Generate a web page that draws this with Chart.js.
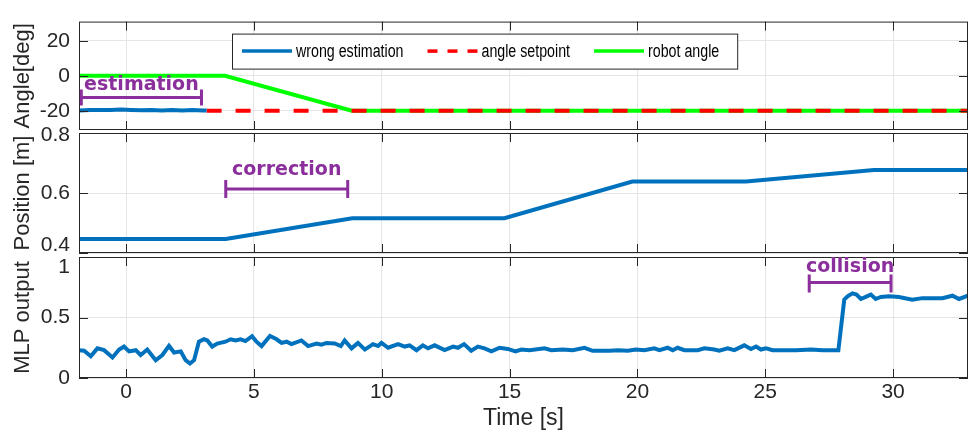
<!DOCTYPE html>
<html>
<head>
<meta charset="utf-8">
<script src="https://cdn.jsdelivr.net/npm/chart.js@4.4.0/dist/chart.umd.min.js"></script>
<style>
  html, body { margin: 0; padding: 0; background: #fff; }
  #wrap { position: relative; width: 969px; height: 439px; }
  #wrap canvas { position: absolute; left: 0; top: 0; }
</style>
</head>
<body>
<div id="wrap">
  <canvas id="angle" width="969" height="439"></canvas>
  <canvas id="position" width="969" height="439"></canvas>
  <canvas id="mlp" width="969" height="439"></canvas>
</div>
<script>
// Shared time axis
const timeRange = [-1.84, 32.93];
const xTicks = [0, 5, 10, 15, 20, 25, 30];

// Angle panel
const estimationTime = [-1.84, -1.4, -1.0, -0.6, -0.2, 0.2, 0.6, 1.0, 1.4, 1.8, 2.2, 2.6, 3.0, 3.15];
const estimationAngle = [-19.8, -19.6, -19.5, -19.6, -19.3, -19.5, -19.7, -19.5, -19.8, -19.6, -19.9, -19.6, -19.8, -19.9];
const setpointTime = [3.15, 32.93];
const setpointAngle = [-20, -20];
const robotTime = [-1.84, 3.87, 8.83, 32.93];
const robotAngle = [0, 0, -20, -20];
const angleTicks = [-20, 0, 20];

// Position panel
const positionTime = [-1.84, 3.9, 8.85, 14.8, 19.8, 24.25, 29.25, 32.93];
const positionValue = [0.447, 0.447, 0.516, 0.516, 0.638, 0.638, 0.677, 0.677];
const positionTicks = [0.4, 0.6, 0.8];

// MLP output panel
const mlpTime = [
  -1.84, -1.64, -1.38, -1.12, -0.86, -0.53, -0.27, -0.08, 0.12, 0.38, 0.57, 0.83,
  1.16, 1.42, 1.68, 1.88, 2.14, 2.33, 2.5, 2.66, 2.85, 3.05, 3.18, 3.37, 3.57, 3.89,
  4.09, 4.28, 4.48, 4.67, 4.93, 5.1, 5.3, 5.63, 5.89, 6.08, 6.28, 6.47, 6.86, 7.12,
  7.45, 7.64, 7.84, 8.16, 8.4, 8.55, 8.82, 9.07, 9.34, 9.66, 9.86, 9.99, 10.25, 10.64,
  10.9, 11.09, 11.36, 11.61, 11.81, 12.07, 12.46, 12.79, 12.98, 13.22, 13.5, 13.76,
  14.02, 14.29, 14.61, 14.93, 15.23, 15.46, 15.78, 16.37, 16.63, 17.08, 17.47, 17.93,
  18.25, 18.91, 19.23, 19.62, 19.95, 20.27, 20.66, 20.86, 21.18, 21.38, 21.57, 21.84,
  22.36, 22.62, 23.01, 23.2, 23.53, 23.79, 24.18, 24.44, 24.64, 24.83, 25.03, 25.29,
  25.74, 26.2, 26.79, 27.24, 27.86, 28.09, 28.22, 28.41, 28.57, 28.74, 28.93, 29.13,
  29.32, 29.52, 29.84, 30.23, 30.75, 31.14, 31.54, 31.93, 32.32, 32.58, 32.93
];
const mlpValue = [
  0.23, 0.225, 0.18, 0.245, 0.23, 0.17, 0.235, 0.26, 0.22, 0.23, 0.19, 0.235,
  0.147, 0.19, 0.265, 0.21, 0.22, 0.147, 0.12, 0.147, 0.30, 0.32, 0.31, 0.26, 0.285, 0.30,
  0.32, 0.31, 0.32, 0.305, 0.345, 0.30, 0.264, 0.348, 0.32, 0.29, 0.30, 0.28, 0.31, 0.264,
  0.285, 0.275, 0.29, 0.285, 0.264, 0.31, 0.245, 0.29, 0.235, 0.28, 0.264, 0.29, 0.25, 0.28,
  0.26, 0.27, 0.23, 0.27, 0.245, 0.27, 0.23, 0.26, 0.25, 0.28, 0.225, 0.26,
  0.245, 0.22, 0.25, 0.24, 0.22, 0.235, 0.23, 0.245, 0.23, 0.235, 0.23, 0.25,
  0.225, 0.225, 0.23, 0.225, 0.235, 0.23, 0.245, 0.23, 0.25, 0.23, 0.25, 0.23,
  0.23, 0.245, 0.235, 0.225, 0.245, 0.23, 0.27, 0.24, 0.26, 0.235, 0.245, 0.23,
  0.23, 0.23, 0.235, 0.23, 0.23, 0.647, 0.675, 0.70, 0.69, 0.653, 0.67, 0.69,
  0.653, 0.67, 0.675, 0.67, 0.647, 0.66, 0.66, 0.66, 0.68, 0.653, 0.68
];
const mlpTicks = [0, 0.5, 1];

// Purple brackets (data coordinates of each panel)
const estimationBracket = { label: 'estimation', from: -1.75, to: 2.95, level: -12.4, tickTop: -7.8, tickBottom: -17, labelAt: -5.2 };
const correctionBracket = { label: 'correction', from: 3.9, to: 8.67, level: 0.613, tickTop: 0.643, tickBottom: 0.583, labelAt: 0.677 };
const collisionBracket = { label: 'collision', from: 26.72, to: 29.92, level: 0.79, tickTop: 0.855, tickBottom: 0.706, labelAt: 0.915 };

const axisColor = '#262626';
const gridColor = '#e5e5e5';
const purple = '#8b2f9c';
const blue = '#0072bd';
const sansFont = '"Liberation Sans", Arial, Helvetica, sans-serif';

function toPoints(xs, ys) {
  return xs.map((x, i) => ({ x, y: ys[i] }));
}

// MATLAB-like box with ticks pointing inward
const boxPlugin = {
  id: 'matlabBox',
  afterDatasetsDraw(chart) {
    const { ctx, chartArea: a, scales: { x, y } } = chart;
    ctx.save();
    ctx.strokeStyle = axisColor;
    ctx.lineWidth = 1;
    ctx.beginPath();
    for (const t of x.ticks) {
      const px = Math.round(x.getPixelForValue(t.value)) + 0.5;
      ctx.moveTo(px, a.top); ctx.lineTo(px, a.top + 9);
      ctx.moveTo(px, a.bottom); ctx.lineTo(px, a.bottom - 9);
    }
    for (const t of y.ticks) {
      const py = Math.round(y.getPixelForValue(t.value)) + 0.5;
      ctx.moveTo(a.left, py); ctx.lineTo(a.left + 9, py);
      ctx.moveTo(a.right, py); ctx.lineTo(a.right - 9, py);
    }
    ctx.stroke();
    ctx.strokeRect(a.left + 0.5, a.top + 0.5, a.right - a.left - 1, a.bottom - a.top - 1);
    ctx.restore();
  }
};

function bracketPlugin(b) {
  return {
    id: 'bracket',
    afterDatasetsDraw(chart) {
      const { ctx, scales: { x, y } } = chart;
      const x0 = x.getPixelForValue(b.from), x1 = x.getPixelForValue(b.to);
      const yl = y.getPixelForValue(b.level);
      const yt = y.getPixelForValue(b.tickTop), yb = y.getPixelForValue(b.tickBottom);
      ctx.save();
      ctx.strokeStyle = purple;
      ctx.fillStyle = purple;
      ctx.lineWidth = 3;
      ctx.beginPath();
      ctx.moveTo(x0, yl); ctx.lineTo(x1, yl);
      ctx.moveTo(x0, yt); ctx.lineTo(x0, yb);
      ctx.moveTo(x1, yt); ctx.lineTo(x1, yb);
      ctx.stroke();
      ctx.font = 'bold 19px "DejaVu Sans", Verdana, sans-serif';
      ctx.textAlign = 'center';
      ctx.textBaseline = 'middle';
      ctx.fillText(b.label, (x0 + x1) / 2, y.getPixelForValue(b.labelAt));
      ctx.restore();
    }
  };
}

// Legend box drawn inside the top panel, text squeezed like a narrow font
const narrow = 0.79;
const legendPlugin = {
  id: 'insideLegend',
  afterDraw(chart) {
    const { ctx, chartArea: a } = chart;
    const boxLeft = a.left + 153, boxTop = a.top + 12, boxH = 35;
    const midY = boxTop + boxH / 2;
    ctx.save();
    ctx.font = '18px ' + sansFont;
    const items = chart.data.datasets.map(ds => ({
      label: ds.label, color: ds.borderColor, dash: ds.borderDash ? [10, 10] : [],
      width: ctx.measureText(ds.label).width * narrow
    }));
    let total = 10;
    items.forEach((it, i) => { total += 54 + it.width + (i < items.length - 1 ? 24 : 18); });
    ctx.fillStyle = '#fff';
    ctx.fillRect(boxLeft, boxTop, total, boxH);
    ctx.strokeStyle = axisColor;
    ctx.lineWidth = 1;
    ctx.strokeRect(boxLeft + 0.5, boxTop + 0.5, total, boxH);
    let x = boxLeft + 10;
    for (const it of items) {
      ctx.strokeStyle = it.color;
      ctx.lineWidth = 3.5;
      ctx.setLineDash(it.dash);
      ctx.beginPath();
      ctx.moveTo(x, midY); ctx.lineTo(x + 50, midY);
      ctx.stroke();
      ctx.setLineDash([]);
      ctx.save();
      ctx.translate(x + 54, midY + 1);
      ctx.scale(narrow, 1);
      ctx.fillStyle = '#000';
      ctx.textAlign = 'left';
      ctx.textBaseline = 'middle';
      ctx.fillText(it.label, 0, 0);
      ctx.restore();
      x += 54 + it.width + 24;
    }
    ctx.restore();
  }
};

// Edge tick labels sit a little inside the box, as in the original figure.
// A two-line label with one empty line shifts the text by half a line height.
function yTickOptions(nudges) {
  return {
    padding: 9,
    color: axisColor,
    callback: v => {
      const s = String(v);
      const n = nudges[s];
      if (!n) return s;
      return n < 0 ? [s, ''] : ['', s];
    },
    font: c => {
      const n = c.tick ? nudges[String(c.tick.value)] : 0;
      return { size: 21, family: sansFont, lineHeight: n ? Math.abs(n) * 2 / 21 : 1.2 };
    }
  };
}

function makePanel(id, cfg) {
  return new Chart(document.getElementById(id), {
    type: 'line',
    data: { datasets: cfg.datasets },
    options: {
      responsive: false,
      animation: false,
      events: [],
      layout: { padding: { top: cfg.top, bottom: cfg.bottom, left: 0, right: 1 } },
      plugins: { legend: { display: false }, tooltip: { enabled: false } },
      elements: { point: { radius: 0 }, line: { tension: 0, borderCapStyle: 'butt' } },
      scales: {
        x: {
          type: 'linear',
          min: timeRange[0],
          max: timeRange[1],
          afterBuildTicks: s => { s.ticks = xTicks.map(v => ({ value: v })); },
          afterFit: s => { s.height = cfg.showX ? 61 : 0; },
          grid: { color: gridColor, drawTicks: false },
          border: { display: false },
          ticks: { display: cfg.showX, padding: 2, color: axisColor, font: { size: 21, family: sansFont } },
          title: {
            display: cfg.showX, text: 'Time [s]', color: axisColor,
            font: { size: 23, family: sansFont }, padding: { top: 0, bottom: 7 }
          }
        },
        y: {
          min: cfg.yMin,
          max: cfg.yMax,
          afterBuildTicks: s => { s.ticks = cfg.yTicks.map(v => ({ value: v })); },
          afterFit: s => { s.width = 79; },
          grid: { color: gridColor, drawTicks: false },
          border: { display: false },
          ticks: yTickOptions(cfg.nudges || {}),
          title: {
            display: true, text: cfg.yTitle, color: axisColor,
            font: { size: 22, family: sansFont }, padding: { top: 10, bottom: 0 }
          }
        }
      }
    },
    plugins: cfg.plugins
  });
}

makePanel('angle', {
  top: 10, bottom: 309, showX: false,
  yMin: -31, yMax: 31, yTicks: angleTicks, yTitle: 'Angle[deg]',
  datasets: [
    { label: 'wrong estimation', data: toPoints(estimationTime, estimationAngle), borderColor: blue, borderWidth: 4 },
    { label: 'angle setpoint', data: toPoints(setpointTime, setpointAngle), borderColor: '#ff0000', borderWidth: 4, borderDash: [15, 14] },
    { label: 'robot angle', data: toPoints(robotTime, robotAngle), borderColor: '#00ff00', borderWidth: 4 }
  ],
  plugins: [boxPlugin, bracketPlugin(estimationBracket), legendPlugin]
});

makePanel('position', {
  top: 133, bottom: 186, showX: false,
  yMin: 0.4, yMax: 0.8, yTicks: positionTicks, yTitle: 'Position [m]',
  nudges: { '0.4': -7.5, '0.8': 2 },
  datasets: [
    { label: 'position', data: toPoints(positionTime, positionValue), borderColor: blue, borderWidth: 4 }
  ],
  plugins: [boxPlugin, bracketPlugin(correctionBracket)]
});

makePanel('mlp', {
  top: 257, bottom: 0, showX: true,
  yMin: 0, yMax: 1, yTicks: mlpTicks, yTitle: 'MLP output',
  nudges: { '1': 10 },
  datasets: [
    { label: 'MLP output', data: toPoints(mlpTime, mlpValue), borderColor: blue, borderWidth: 4 }
  ],
  plugins: [boxPlugin, bracketPlugin(collisionBracket)]
});
</script>
</body>
</html>
